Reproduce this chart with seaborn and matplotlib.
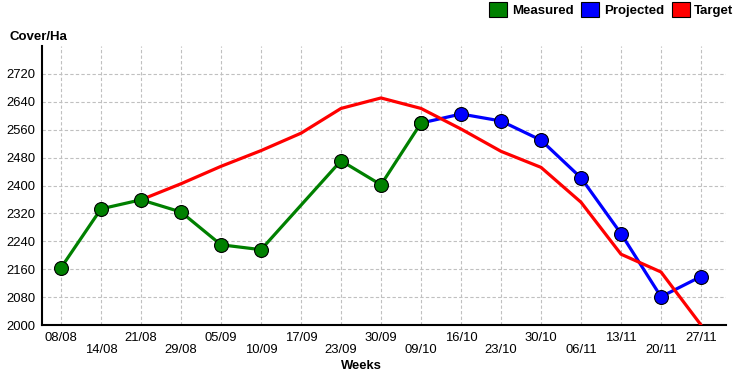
import numpy as np
import pandas as pd
import matplotlib
matplotlib.use('Agg')
import matplotlib.pyplot as plt
from matplotlib.patches import Patch
import seaborn as sns

# ---------------------------------------------------------------------
# data
# ---------------------------------------------------------------------
weeks = ['08/08', '14/08', '21/08', '29/08', '05/09', '10/09', '17/09', '23/09', '30/09',
         '09/10', '16/10', '23/10', '30/10', '06/11', '13/11', '20/11', '27/11']
measured = [2164, 2333, 2359, 2324, 2230, 2216, np.nan, 2471, 2402, 2579,
            np.nan, np.nan, np.nan, np.nan, np.nan, np.nan, np.nan]
projected = [np.nan] * 9 + [2579, 2605, 2585, 2530, 2422, 2262, 2081, 2139]
target = [np.nan, np.nan, 2359, 2405, 2455, 2500, 2550, 2621, 2651, 2621,
          2562, 2498, 2452, 2352, 2203, 2152, 2000]
y_ticks = list(range(2000, 2721, 80))

df = pd.DataFrame({'pos': np.arange(len(weeks)), 'week': weeks,
                   'Measured': measured, 'Projected': projected, 'Target': target})

colors = {'Measured': '#008000', 'Projected': '#0000ff', 'Target': '#ff0000'}

sns.set_style('white')
plt.rcParams['font.family'] = ['Liberation Sans', 'DejaVu Sans']
plt.rcParams['text.color'] = 'black'
plt.rcParams['xtick.color'] = 'black'
plt.rcParams['ytick.color'] = 'black'
plt.rcParams['axes.labelcolor'] = 'black'

fig = plt.figure(figsize=(7.4, 3.77), dpi=100)
ax = fig.add_axes([42 / 740, 1 - 325 / 377, (726 - 42) / 740, (325 - 46) / 377])

ax.grid(True, color='#c0c0c0', linestyle=(0, (3, 2)), linewidth=0.8)
ax.set_axisbelow(True)

# projected first, target over it, measured on top
d = df.dropna(subset=['Projected'])
sns.lineplot(ax=ax, x=d['pos'], y=d['Projected'], color=colors['Projected'], linewidth=2.3,
             marker='o', markersize=10, markeredgecolor='black', markeredgewidth=0.8, zorder=3)
d = df.dropna(subset=['Target'])
sns.lineplot(ax=ax, x=d['pos'], y=d['Target'], color=colors['Target'], linewidth=2.3, zorder=4)
d = df.dropna(subset=['Measured'])
sns.lineplot(ax=ax, x=d['pos'], y=d['Measured'], color=colors['Measured'], linewidth=2.3,
             marker='o', markersize=10, markeredgecolor='black', markeredgewidth=0.8, zorder=5)

ax.set_xlim(-0.475, 16.625)
ax.set_ylim(2000, 2800)
ax.set_xticks(df['pos'])
ax.set_xticklabels([w if i % 2 == 0 else '\n' + w for i, w in enumerate(weeks)], fontsize=9.4,
                   linespacing=1.05)
ax.set_yticks(y_ticks)
ax.set_yticklabels([str(v) for v in y_ticks], fontsize=9.4)
ax.tick_params(axis='both', direction='inout', length=6, width=1, color='black', pad=2)

ax.set_xlabel('Weeks', fontsize=9.4, fontweight='bold', labelpad=0)
ax.xaxis.set_label_coords((361 - 42) / 684, -0.125)
ax.set_ylabel('')
fig.text(10 / 740, 1 - 37 / 377, 'Cover/Ha', fontsize=9.5, fontweight='bold', va='center', ha='left')

sns.despine(ax=ax)
for s in ['left', 'bottom']:
    ax.spines[s].set_color('black')
    ax.spines[s].set_linewidth(1.5)

handles = [Patch(facecolor=colors[k], edgecolor='black', linewidth=0.8, label=k)
           for k in ['Measured', 'Projected', 'Target']]
leg = fig.legend(handles=handles, loc='upper right', bbox_to_anchor=(1.0, 1.012), ncol=3,
                 frameon=False, fontsize=9.5, handlelength=1.35, handleheight=1.35,
                 handletextpad=0.35, columnspacing=0.6, borderaxespad=0.1)
for t in leg.get_texts():
    t.set_fontweight('bold')

fig.savefig('out.png', dpi=100)
